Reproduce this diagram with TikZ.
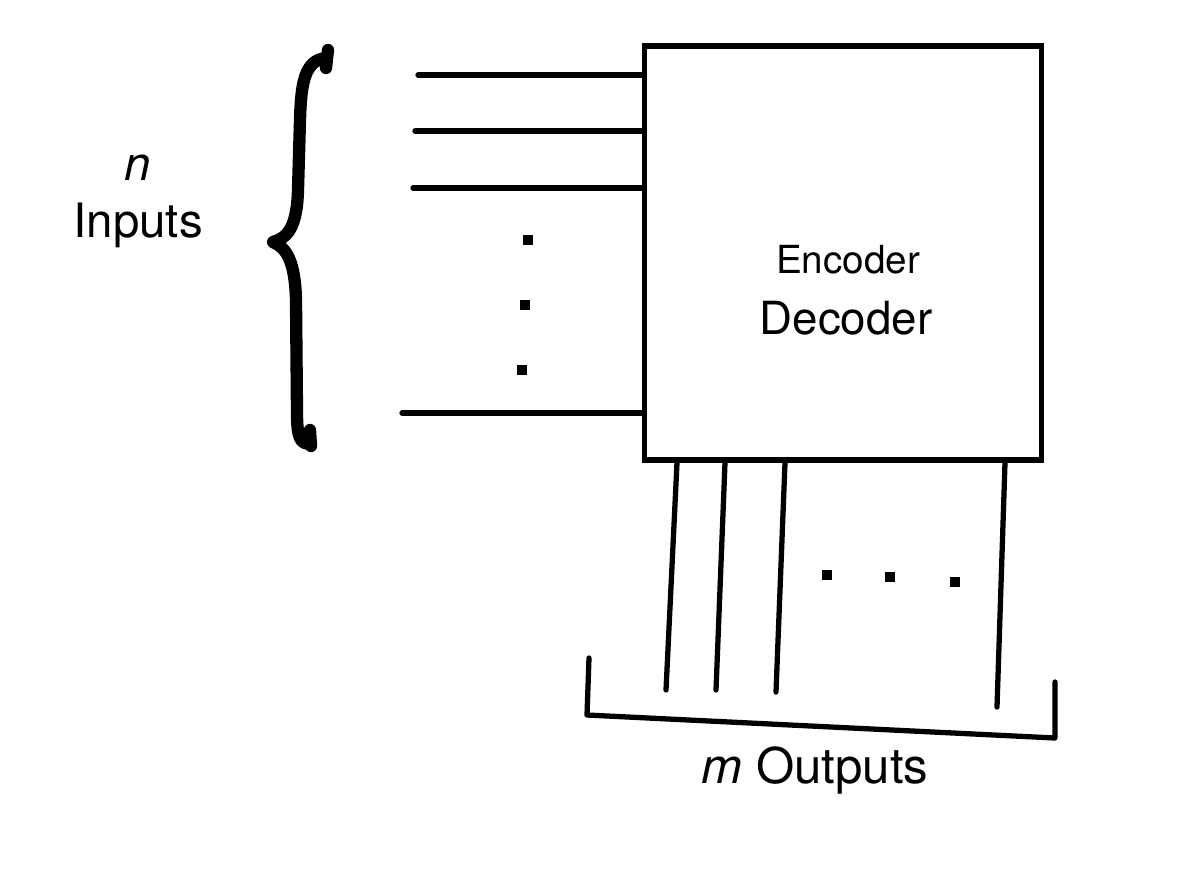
\documentclass[tikz,border=0pt]{standalone}
\usepackage{fontspec}
\setmainfont{TeX Gyre Heros}
\begin{document}
\begin{tikzpicture}[x=0.02cm,y=-0.02cm,
  wire/.style={line width=3pt,line cap=round},
  blk/.style={draw,line width=3.2pt,minimum width=7.94cm,minimum height=8.28cm,inner sep=0pt},
  sqdot/.style={fill=black,rectangle,minimum size=5.5pt,inner sep=0pt},
  lbl/.style={inner sep=0pt,font=\fontsize{27}{30}\selectfont}]
\useasboundingbox (0,0) rectangle (1200,877);
\node[blk] (box) at (843,253) {};
\node[inner sep=0pt,font=\fontsize{22}{24}\selectfont] (enc) at (848,260) {Encoder};
\node[inner sep=0pt,font=\fontsize{26}{28}\selectfont] (dec) at (846,318) {Decoder};
% inputs
\coordinate (i1) at (418,75);
\coordinate (i2) at (415,131);
\coordinate (i3) at (413,188);
\coordinate (i4) at (402,413);
\foreach \c in {i1,i2,i3,i4} \draw[wire] (\c) -- (\c -| box.west);
\node[sqdot] (d1) at (528,240) {};
\node[sqdot] (d2) at (525,305) {};
\node[sqdot] (d3) at (522,370) {};
% brace
\draw[line width=7pt,line cap=round,line join=round] (328,50) -- (326,68)
  (326,58) .. controls (304,60) and (301,85) .. (300,120) -- (298,190)
  .. controls (297,228) and (287,238) .. (273,242)
  .. controls (287,248) and (295,262) .. (296,300) -- (297,412)
  .. controls (297,438) and (300,444) .. (311,444) (310,430) -- (311,446);
\node[lbl] (n) at (138,168) {\itshape n};
\node[lbl] (inp) at (138,225) {Inputs};
% outputs
\coordinate (o1) at (666,690);
\coordinate (o2) at (716,690);
\coordinate (o3) at (776,692);
\coordinate (o4) at (997,707);
\foreach \c/\x in {o1/677,o2/725,o3/785,o4/1005} \draw[wire] (\x,0 |- box.south) -- (\c);
\node[sqdot] (e1) at (827,575) {};
\node[sqdot] (e2) at (890,577) {};
\node[sqdot] (e3) at (955,582) {};
% output bracket
\draw[wire,line join=round] (589,658) -- (587,715) -- (1055,738) -- (1055,682);
\node[lbl,font=\fontsize{28}{30}\selectfont] (out) at (815,770) {\itshape m\upshape\ Outputs};
\end{tikzpicture}
\end{document}
